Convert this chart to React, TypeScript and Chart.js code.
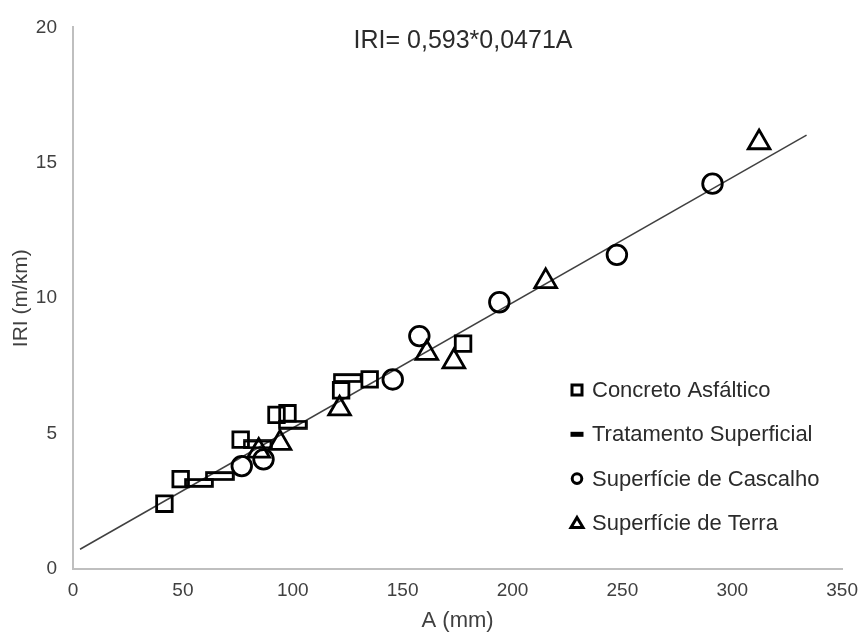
import React, { useEffect, useRef } from 'react';
import { Chart, registerables } from 'chart.js';

Chart.register(...registerables);

const FONT = "'Liberation Sans', Arial, Helvetica, sans-serif";

// ---- data ----
const seriesNames = [
  'Concreto Asfáltico',
  'Tratamento Superficial',
  'Superfície de Cascalho',
  'Superfície de Terra',
];
const concretoX = [41.6, 49, 76.3, 92.6, 97.6, 122, 135, 177.5];
const concretoY = [2.41, 3.32, 4.78, 5.69, 5.75, 6.6, 7.0, 8.32];
const tratamentoX = [57.3, 66.8, 84, 100, 125];
const tratamentoY = [3.18, 3.43, 4.6, 5.33, 7.05];
const cascalhoX = [76.8, 86.7, 145.5, 157.6, 194, 247.5, 291];
const cascalhoY = [3.8, 4.05, 7.0, 8.6, 9.85, 11.6, 14.23];
const terraX = [84.5, 94.2, 121.3, 161, 173.3, 215.1, 312.2];
const terraY = [4.36, 4.65, 5.92, 7.97, 7.66, 10.62, 15.75];
const trendX = [3.2, 333.8];
const trendY = [0.73, 16.02];

const titleText = 'IRI= 0,593*0,0471A';
const xTitle = 'A (mm)';
const yTitle = 'IRI (m/km)';
const xMin = 0, xMax = 350, xStep = 50;
const yMin = 0, yMax = 20, yStep = 5;

const pts = (xs: number[], ys: number[]) => xs.map((x, i) => ({ x, y: ys[i] }));

function makeDashMarker(): HTMLCanvasElement {
  const c = document.createElement('canvas');
  c.width = 30;
  c.height = 10;
  const g = c.getContext('2d')!;
  g.strokeStyle = '#000';
  g.lineWidth = 2.8;
  g.strokeRect(1.6, 1.6, 26.8, 6.8);
  return c;
}

const overlayPlugin = {
  id: 'overlay',
  afterDraw(chart: any) {
    const ctx = chart.ctx as CanvasRenderingContext2D;
    ctx.save();
    ctx.fillStyle = '#2b2b2b';
    ctx.font = `25px ${FONT}`;
    ctx.textAlign = 'center';
    ctx.textBaseline = 'middle';
    ctx.fillText(titleText, 463, 41);

    ctx.font = `22px ${FONT}`;
    ctx.textAlign = 'left';
    seriesNames.forEach((name, i) => {
      const cy = 390 + i * 44.3;
      const cx = 577;
      ctx.strokeStyle = '#000';
      ctx.fillStyle = '#000';
      ctx.lineWidth = 3;
      ctx.beginPath();
      if (i === 0) {
        ctx.rect(cx - 5, cy - 5, 10, 10);
        ctx.stroke();
      } else if (i === 1) {
        ctx.fillRect(cx - 6.5, cy - 2.5, 13, 5);
      } else if (i === 2) {
        ctx.arc(cx, cy, 4.8, 0, Math.PI * 2);
        ctx.stroke();
      } else {
        ctx.moveTo(cx, cy - 5.5);
        ctx.lineTo(cx + 6, cy + 4.5);
        ctx.lineTo(cx - 6, cy + 4.5);
        ctx.closePath();
        ctx.stroke();
      }
      ctx.fillStyle = '#2b2b2b';
      ctx.fillText(name, 592, cy + 1);
    });
    ctx.restore();
  },
};

export default function App() {
  const ref = useRef<HTMLCanvasElement | null>(null);

  useEffect(() => {
    if (!ref.current) return;
    const dash = makeDashMarker();
    const common = {
      showLine: false,
      borderColor: '#000000',
      backgroundColor: 'rgba(0,0,0,0)',
      borderWidth: 2.8,
      pointBorderWidth: 2.8,
    };
    const chart = new Chart(ref.current, {
      type: 'scatter',
      data: {
        datasets: [
          {
            ...common,
            label: seriesNames[0],
            data: pts(concretoX, concretoY),
            pointStyle: 'rect',
            pointRadius: 11,
          },
          {
            ...common,
            label: seriesNames[1],
            data: pts(tratamentoX, tratamentoY),
            pointStyle: dash as any,
            pointRadius: 10,
          },
          {
            ...common,
            label: seriesNames[2],
            data: pts(cascalhoX, cascalhoY),
            pointStyle: 'circle',
            pointRadius: 9.8,
          },
          {
            ...common,
            label: seriesNames[3],
            data: pts(terraX, terraY),
            pointStyle: 'triangle',
            pointRadius: 12.5,
          },
          {
            label: 'trend',
            data: pts(trendX, trendY),
            showLine: true,
            borderColor: '#404040',
            borderWidth: 1.5,
            pointRadius: 0,
            backgroundColor: 'rgba(0,0,0,0)',
          } as any,
        ],
      },
      options: {
        animation: false,
        responsive: false,
        devicePixelRatio: 1,
        layout: { padding: { top: 21, right: 20, bottom: 0, left: 0 } },
        plugins: {
          legend: { display: false },
          title: { display: false },
          tooltip: { enabled: false },
        },
        scales: {
          x: {
            type: 'linear',
            min: xMin,
            max: xMax,
            ticks: {
              stepSize: xStep,
              padding: 10,
              color: '#404040',
              font: { size: 19, family: FONT },
            },
            grid: { display: false, drawTicks: false },
            border: { display: true, color: '#bfbfbf', width: 2 },
            title: {
              display: true,
              text: xTitle,
              color: '#404040',
              font: { size: 22, family: FONT },
              padding: { top: 0, bottom: 0 },
            },
            afterFit: (s: any) => {
              s.height = 65;
            },
          },
          y: {
            type: 'linear',
            min: yMin,
            max: yMax,
            ticks: {
              stepSize: yStep,
              padding: 16,
              color: '#404040',
              font: { size: 19, family: FONT },
            },
            grid: { display: false, drawTicks: false },
            border: { display: true, color: '#bfbfbf', width: 2 },
            title: {
              display: true,
              text: yTitle,
              color: '#404040',
              font: { size: 21, family: FONT },
              padding: { top: 9, bottom: 0 },
            },
            afterFit: (s: any) => {
              s.width = 73;
            },
          },
        },
      },
      plugins: [overlayPlugin],
    } as any);
    return () => chart.destroy();
  }, []);

  return (
    <div style={{ position: 'fixed', left: 0, top: 0, width: 868, height: 634, background: '#fff' }}>
      <canvas ref={ref} width={868} height={634} style={{ display: 'block' }} />
    </div>
  );
}
